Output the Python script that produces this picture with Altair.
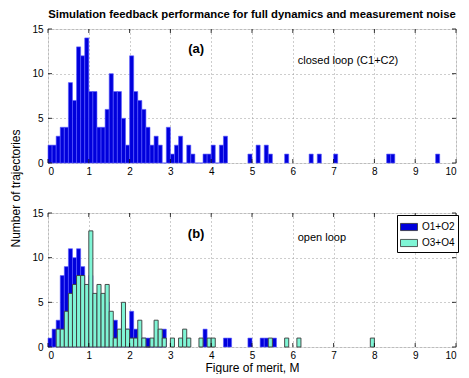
import altair as alt
import pandas as pd

# ---- data (bins of width 0.1, index i -> [i*0.1, (i+1)*0.1)) ----
x_ticks = [0, 1, 2, 3, 4, 5, 6, 7, 8, 9, 10]
y_ticks = [0, 5, 10, 15]

top_bin = list(range(44)) + [49, 51, 53, 54, 58, 64, 66, 70, 83, 84, 95]
top_count = [2, 2, 3, 4, 4, 9, 7, 13, 12, 14,
             8, 8, 4, 4, 6, 10, 8, 8, 5, 2,
             12, 8, 7, 6, 4, 2, 3, 2, 0, 4,
             1, 2, 3, 0, 2, 1, 0, 0, 1, 1,
             2, 0, 2, 3,
             1, 2, 2, 1, 1, 1, 1, 1, 1, 1, 1]

blue_bin = list(range(29)) + [38, 43, 44, 49, 52, 53, 55]
blue_count = [1, 2, 3, 8, 9, 11, 10, 11, 9, 6,
              8, 5, 6, 4, 5, 3, 3, 1, 3, 2,
              4, 2, 1, 1, 1, 0, 1, 0, 2,
              2, 1, 1, 1, 1, 1, 1]

cyan_bin = list(range(2, 29)) + [30, 32, 33, 34, 37, 39, 40, 54, 58, 61, 79]
cyan_count = [2, 2, 4, 6, 7, 8, 8, 7,
              13, 6, 7, 6, 7, 4, 1, 2, 5, 2,
              1, 1, 3, 1, 0, 1, 3, 2, 1,
              1, 1, 2, 1, 1, 1, 1, 1, 1, 1, 1]

series_names = ["O1+O2", "O3+O4"]
series_colors = ["#0000dc", "#7ff5d5"]

title_text = "Simulation feedback performance for full dynamics and measurement noise"
label_a = ["(a)", "closed loop (C1+C2)"]
label_a_x = [3.63, 6.12]
label_a_y = [12.75, 11.45]
label_b = ["(b)", "open loop"]
label_b_x = [3.63, 6.12]
label_b_y = [12.7, 12.25]

BIN_W = 0.1
W, H = 408, 134
GAP = 50
FONT = "Liberation Sans"


def bins_df(bins, counts, name):
    return pd.DataFrame({
        "x0": [b * BIN_W for b in bins],
        "x1": [(b + 1) * BIN_W for b in bins],
        "n": counts,
        "series": name,
    })


xs = alt.Scale(domain=[0, 10], nice=False, zero=False)
ys = alt.Scale(domain=[0, 15], nice=False)


def x_axis(title=None):
    kw = dict(values=x_ticks, grid=True, gridDash=[1, 3], gridColor="#9a9a9a",
              domain=False, ticks=False, labelPadding=3, labelFont=FONT,
              labelFontSize=10, labelColor="#000", labelAngle=0)
    if title:
        kw.update(title=title, titleFont=FONT, titleFontSize=12,
                  titleFontWeight="normal", titleColor="#000", titlePadding=2)
    else:
        kw.update(title=None)
    return alt.Axis(**kw)


def y_axis(title=None):
    kw = dict(values=y_ticks, grid=True, gridDash=[1, 3], gridColor="#9a9a9a",
              domain=False, ticks=False, labelPadding=5, labelFont=FONT,
              labelFontSize=10, labelColor="#000")
    if title:
        kw.update(title=title, titleFont=FONT, titleFontSize=12,
                  titleFontWeight="normal", titleColor="#000", titleAngle=270,
                  titleX=-38, titleY=H + GAP / 2, titleAlign="center", titleBaseline="top")
    else:
        kw.update(title=None)
    return alt.Axis(**kw)


def tick_layers():
    xt = pd.DataFrame({"t": x_ticks})
    yt = pd.DataFrame({"t": y_ticks})
    bx = alt.Chart(xt).mark_rule(color="#000", strokeWidth=0.8).encode(
        x=alt.X("t:Q", scale=xs), y=alt.value(H), y2=alt.value(H - 4))
    tx = alt.Chart(xt).mark_rule(color="#000", strokeWidth=0.8).encode(
        x=alt.X("t:Q", scale=xs), y=alt.value(0), y2=alt.value(4))
    ly = alt.Chart(yt).mark_rule(color="#000", strokeWidth=0.8).encode(
        y=alt.Y("t:Q", scale=ys), x=alt.value(0), x2=alt.value(4))
    ry = alt.Chart(yt).mark_rule(color="#000", strokeWidth=0.8).encode(
        y=alt.Y("t:Q", scale=ys), x=alt.value(W), x2=alt.value(W - 4))
    return [bx, tx, ly, ry]


def text_layers(labels, lx, ly_):
    df = pd.DataFrame({"label": labels, "x": lx, "y": ly_})
    bold = alt.Chart(df.iloc[[0]]).mark_text(
        font=FONT, fontSize=13, fontWeight="bold", color="#000", align="center",
        baseline="middle").encode(x=alt.X("x:Q", scale=xs), y=alt.Y("y:Q", scale=ys), text="label:N")
    plain = alt.Chart(df.iloc[[1]]).mark_text(
        font=FONT, fontSize=11, color="#000", align="left",
        baseline="middle").encode(x=alt.X("x:Q", scale=xs), y=alt.Y("y:Q", scale=ys), text="label:N")
    return [bold, plain]


# ---- top panel ----
top_df = bins_df(top_bin, top_count, "C1+C2")
top_bars = alt.Chart(top_df).mark_bar(color=series_colors[0], stroke="#5a5aff",
                                      strokeWidth=0.6).encode(
    x=alt.X("x0:Q", scale=xs, axis=x_axis()),
    x2="x1:Q",
    y=alt.Y("n:Q", scale=ys, axis=y_axis("Number of trajectories")),
    y2=alt.datum(0),
)
top = alt.layer(top_bars, *tick_layers(), *text_layers(label_a, label_a_x, label_a_y)).properties(
    width=W, height=H,
    title=alt.TitleParams(title_text, font=FONT, fontSize=11.3, fontWeight="bold",
                          color="#000", anchor="middle", offset=4),
)

# ---- bottom panel ----
color_scale = alt.Scale(domain=series_names, range=series_colors)
legend = alt.Legend(title=None, orient="none", legendX=349, legendY=H + GAP + 2,
                    fillColor="#fff", strokeColor="#000", padding=3, cornerRadius=0,
                    symbolType="M-1,-0.42H1V0.42H-1Z", symbolSize=289,
                    symbolStrokeColor="#333", symbolStrokeWidth=0.8, symbolOpacity=1,
                    labelFont=FONT, labelFontSize=10, labelColor="#000",
                    rowPadding=1, labelOffset=4)

blue_df = bins_df(blue_bin, blue_count, series_names[0])
cyan_df = bins_df(cyan_bin, cyan_count, series_names[1])

blue_bars = alt.Chart(blue_df).mark_bar(stroke="#5a5aff", strokeWidth=0.6, opacity=1).encode(
    x=alt.X("x0:Q", scale=xs, axis=x_axis("Figure of merit, M")),
    x2="x1:Q",
    y=alt.Y("n:Q", scale=ys, axis=y_axis()),
    y2=alt.datum(0),
    color=alt.Color("series:N", scale=color_scale, legend=legend),
)
cyan_bars = alt.Chart(cyan_df).mark_bar(stroke="#3a3a3a", strokeWidth=0.9, opacity=1).encode(
    x=alt.X("x0:Q", scale=xs),
    x2="x1:Q",
    y=alt.Y("n:Q", scale=ys),
    y2=alt.datum(0),
    color=alt.Color("series:N", scale=color_scale, legend=legend),
)
bottom = alt.layer(blue_bars, cyan_bars, *tick_layers(),
                   *text_layers(label_b, label_b_x, label_b_y)).properties(width=W, height=H)

chart = alt.vconcat(top, bottom, spacing=GAP, bounds="flush").properties(
    padding={"left": 0, "top": 0, "right": 0, "bottom": 0}
).configure_view(stroke="#222", strokeWidth=1).configure(background="#fff")

chart.save("out.html", embed_options={"renderer": "svg", "actions": False})
